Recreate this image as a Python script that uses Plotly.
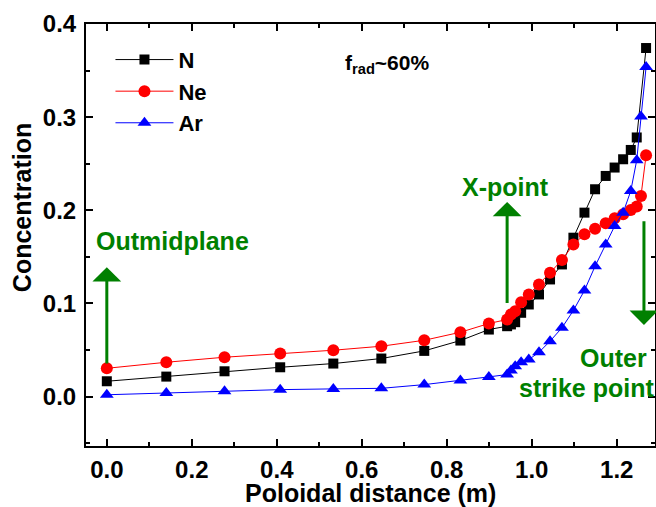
import plotly.graph_objects as go

# ---- data ----
x_N = [0.000, 0.140, 0.277, 0.408, 0.533, 0.646, 0.747, 0.832, 0.899, 0.942, 0.951, 0.961,
       0.975, 0.993, 1.017, 1.043, 1.071, 1.098, 1.124, 1.149, 1.174, 1.195, 1.215, 1.233,
       1.247, 1.269]
y_N = [0.0165, 0.0215, 0.0272, 0.0315, 0.0355, 0.0409, 0.0491, 0.0602, 0.0720, 0.0756, 0.0775,
       0.0799, 0.0900, 0.0989, 0.1097, 0.1258, 0.1419, 0.1706, 0.1975, 0.2226, 0.2369, 0.2459,
       0.2548, 0.2648, 0.2782, 0.3742]

x_Ne = [0.000, 0.140, 0.277, 0.408, 0.533, 0.646, 0.747, 0.832, 0.899, 0.942, 0.951, 0.961,
        0.975, 0.993, 1.017, 1.043, 1.071, 1.098, 1.124, 1.149, 1.174, 1.195, 1.215, 1.233,
        1.247, 1.257, 1.269]
y_Ne = [0.0304, 0.0369, 0.0423, 0.0462, 0.0498, 0.0541, 0.0605, 0.0691, 0.0785, 0.0828, 0.0882,
        0.0917, 0.1014, 0.1097, 0.1204, 0.1330, 0.1466, 0.1634, 0.1742, 0.1803, 0.1860, 0.1914,
        0.1957, 0.2003, 0.2040, 0.2154, 0.2591]

x_Ar = [0.000, 0.140, 0.277, 0.408, 0.533, 0.646, 0.747, 0.832, 0.899, 0.942, 0.951, 0.961,
        0.975, 0.993, 1.017, 1.043, 1.071, 1.098, 1.124, 1.149, 1.174, 1.195, 1.215, 1.233,
        1.247, 1.257, 1.269]
y_Ar = [0.0020, 0.0040, 0.0057, 0.0075, 0.0083, 0.0089, 0.0129, 0.0172, 0.0212, 0.0237, 0.0280,
        0.0326, 0.0369, 0.0398, 0.0476, 0.0595, 0.0739, 0.0925, 0.1140, 0.1400, 0.1634, 0.1831,
        0.1975, 0.2208, 0.2538, 0.3008, 0.3538]

x_ticks = [0.0, 0.2, 0.4, 0.6, 0.8, 1.0, 1.2]
y_ticks = [0.0, 0.1, 0.2, 0.3, 0.4]

FONT = "Arial, Liberation Sans, sans-serif"
GREEN = "rgb(0,128,0)"

fig = go.Figure()
fig.add_trace(go.Scatter(x=x_N, y=y_N, name="N", mode="lines+markers",
                         line=dict(color="black", width=1),
                         marker=dict(symbol="square", size=10, color="black")))
fig.add_trace(go.Scatter(x=x_Ne, y=y_Ne, name="Ne", mode="lines+markers",
                         line=dict(color="red", width=1),
                         marker=dict(symbol="circle", size=12, color="red")))
fig.add_trace(go.Scatter(x=x_Ar, y=y_Ar, name="Ar", mode="lines+markers",
                         line=dict(color="blue", width=1),
                         marker=dict(symbol="triangle-up", size=12, color="blue")))

axis_common = dict(showline=True, linecolor="black", linewidth=2, mirror="ticks",
                   ticks="inside", ticklen=7, tickwidth=2, tickcolor="black",
                   showgrid=False, zeroline=False,
                   tickfont=dict(family=FONT, size=24, color="black", weight="bold"))

fig.update_xaxes(range=[-0.049, 1.29], tickvals=x_ticks, tickformat=".1f",
                 minor=dict(ticks="inside", ticklen=4, tickwidth=2, dtick=0.1, tick0=0,
                            tickcolor="black", showgrid=False),
                 ticklabelstandoff=1,
                 **axis_common)
fig.update_yaxes(range=[-0.053, 0.4], tickvals=y_ticks, tickformat=".1f",
                 minor=dict(ticks="inside", ticklen=4, tickwidth=2, dtick=0.05, tick0=0,
                            tickcolor="black", showgrid=False),
                 ticklabelstandoff=3,
                 **axis_common)

title_font = dict(family=FONT, size=25, color="black", weight="bold")
ann_font = dict(family=FONT, size=25, color=GREEN, weight="bold")
annotations = [
    # axis titles
    dict(x=0.5, y=-(493 - 446) / 422.0, xref="paper", yref="paper", text="Poloidal distance (m)",
         showarrow=False, xanchor="center", yanchor="middle", font=title_font),
    dict(x=-0.1125, y=0.566, xref="paper", yref="paper", text="Concentration",
         showarrow=False, xanchor="center", yanchor="middle", textangle=-90, font=title_font),
    # labels
    dict(x=-0.030, y=0.167, xref="x", yref="y", text="Outmidplane", showarrow=False,
         xanchor="left", yanchor="middle", font=ann_font),
    dict(x=1.045, y=0.225, xref="x", yref="y", text="X-point", showarrow=False,
         xanchor="right", yanchor="middle", font=ann_font),
    dict(x=1.277, y=0.042, xref="x", yref="y", text="Outer", showarrow=False,
         xanchor="right", yanchor="middle", font=ann_font),
    dict(x=0.966, y=0.0097, xref="x", yref="y", text="strike point", showarrow=False,
         xanchor="left", yanchor="middle", font=ann_font),
    dict(x=0.555, y=0.357, xref="x", yref="y", text="f<sub>rad</sub>~60%", showarrow=False,
         xanchor="left", yanchor="middle",
         font=dict(family=FONT, size=21, color="black", weight="bold")),
    # arrows
    dict(x=0.0, y=0.139, ax=0.0, ay=0.034, xref="x", yref="y", axref="x", ayref="y",
         text="", showarrow=True, arrowhead=1, arrowsize=1.6, arrowwidth=3, arrowcolor=GREEN),
    dict(x=0.942, y=0.209, ax=0.942, ay=0.099, xref="x", yref="y", axref="x", ayref="y",
         text="", showarrow=True, arrowhead=1, arrowsize=1.6, arrowwidth=3, arrowcolor=GREEN),
    dict(x=1.264, y=0.077, ax=1.264, ay=0.190, xref="x", yref="y", axref="x", ayref="y",
         text="", showarrow=True, arrowhead=1, arrowsize=1.6, arrowwidth=3, arrowcolor=GREEN),
]

fig.update_layout(
    width=656, height=507,
    margin=dict(l=86, r=1, t=24, b=61, autoexpand=False),
    plot_bgcolor="white", paper_bgcolor="white",
    font=dict(family=FONT, color="black"),
    showlegend=True,
    legend=dict(x=0.043, y=0.965, xanchor="left", yanchor="top",
                bgcolor="rgba(0,0,0,0)", borderwidth=0, itemwidth=58,
                font=dict(family=FONT, size=22, color="black", weight="bold"),
                tracegroupgap=0),
    annotations=annotations,
)

fig.write_html("out.html", config={"displayModeBar": False},
               post_script="document.body.style.margin='0';document.body.style.overflow='hidden';")
